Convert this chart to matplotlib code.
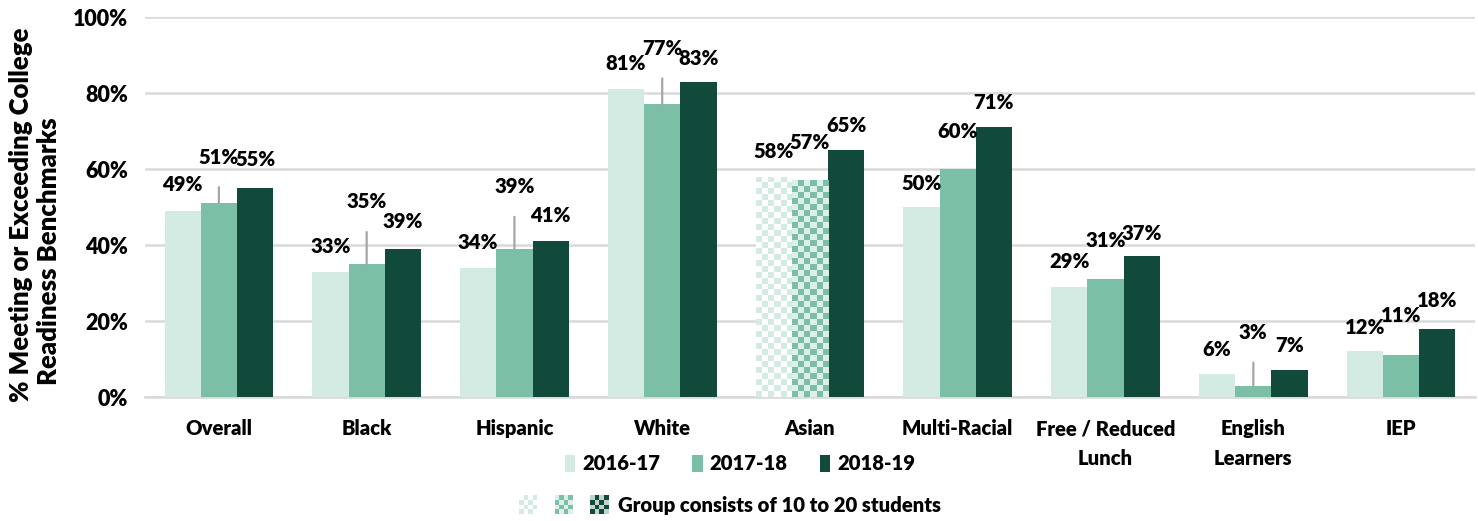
import matplotlib
matplotlib.use('Agg')
import matplotlib.pyplot as plt
import numpy as np
from matplotlib.patches import Rectangle, Patch
from matplotlib.legend_handler import HandlerBase
from matplotlib.colors import to_rgb

# ---------------- data ----------------
categories = ['Overall', 'Black', 'Hispanic', 'White', 'Asian', 'Multi-Racial',
              'Free / Reduced\nLunch', 'English\nLearners', 'IEP']
series = ['2016-17', '2017-18', '2018-19']
v2016 = [49, 33, 34, 81, 58, 50, 29, 6, 12]
v2017 = [51, 35, 39, 77, 57, 60, 31, 3, 11]
v2018 = [55, 39, 41, 83, 65, 71, 37, 7, 18]
# groups of 10 to 20 students, per series
small_2016 = ['Asian']
small_2017 = ['Asian']
small_2018 = []
yticks = [0, 20, 40, 60, 80, 100]
ytick_labels = ['0%', '20%', '40%', '60%', '80%', '100%']
small_note = 'Group consists of 10 to 20 students'
ylabel_lines = ['% Meeting or Exceeding College', 'Readiness Benchmarks']

# ---------------- style / layout ----------------
colors = ['#d4ebe3', '#7bbfa7', '#114a3a']
grid_color = '#d9d9d9'
leader_color = '#a6a6a6'
FONT = 'Lato'
FS = 14.6
WEIGHT = 'heavy'
# label offsets (pixels above bar top) per series, and leader-line flags
label_off = [
    [26, 25, 25, 26, 25, 24, 25, 25, 24],
    [46, 62, 62, 56, 38, 37, 39, 53, 40],
    [28, 27, 26, 23, 24, 25, 23, 25, 28],
]
leader = [
    [False] * 9,
    [True, True, True, True, False, False, False, True, False],
    [False] * 9,
]

plt.rcParams['font.family'] = [FONT, 'DejaVu Sans']
plt.rcParams['font.weight'] = WEIGHT

W, H = 1478, 521
fig = plt.figure(figsize=(W / 100, H / 100), dpi=100)
ax = fig.add_axes([145 / W, 1 - 397 / H, 1330 / W, 380 / H])

x = np.arange(len(categories))
bw = 0.245
values = [v2016, v2017, v2018]
smalls = [small_2016, small_2017, small_2018]

ax.set_xlim(-0.5, len(categories) - 0.5)
ax.set_ylim(0, 100)


def lighten(c, f):
    r = np.array(to_rgb(c))
    return tuple(r + (1 - r) * f)


bar_containers = []
for k, vals in enumerate(values):
    bars = ax.bar(x + (k - 1) * bw, vals, width=bw, color=colors[k], zorder=3,
                  linewidth=0)
    bar_containers.append(bars)

# checkerboard fill for small groups
cell = 6.0
for k, bars in enumerate(bar_containers):
    for i, patch in enumerate(bars):
        if categories[i] not in smalls[k]:
            continue
        x0, y0 = patch.get_x(), patch.get_y()
        x1, y1 = x0 + patch.get_width(), y0 + patch.get_height()
        p0 = ax.transData.transform((x0, y0))
        p1 = ax.transData.transform((x1, y1))
        nx = max(1, int(round((p1[0] - p0[0]) / cell)))
        ny = max(1, int(round((p1[1] - p0[1]) / cell)))
        c1 = np.array(to_rgb(colors[k]))
        c2 = np.array(lighten(colors[k], 0.75))
        if k == 0:
            c2 = np.array([1.0, 1.0, 1.0])
        img = np.zeros((ny, nx, 3))
        for r in range(ny):
            for c in range(nx):
                img[r, c] = c1 if (r + c) % 2 == 0 else c2
        patch.set_facecolor('none')
        im = ax.imshow(img, extent=[x0, x1, y0, y1], origin='lower',
                       interpolation='nearest', aspect='auto', zorder=3)
        im.set_clip_path(patch)

ax.set_xlim(-0.5, len(categories) - 0.5)
ax.set_ylim(0, 100)

# data labels
for k, bars in enumerate(bar_containers):
    for i, patch in enumerate(bars):
        v = values[k][i]
        cx = patch.get_x() + patch.get_width() / 2
        off = label_off[k][i]
        ax.annotate(f'{v}%', xy=(cx, v), xytext=(0, off), textcoords='offset pixels',
                    ha='center', va='center', fontsize=FS, fontweight=WEIGHT,
                    color='black', zorder=5, annotation_clip=False)
        if leader[k][i]:
            ax.annotate('', xy=(cx, v), xytext=(0, off - 30), textcoords='offset pixels',
                        arrowprops=dict(arrowstyle='-', color=leader_color, lw=1.6,
                                        shrinkA=0, shrinkB=0), zorder=4,
                        annotation_clip=False)

# axes styling
ax.set_yticks(yticks)
ax.set_yticklabels(ytick_labels, fontsize=15.5, fontweight=WEIGHT)
ax.set_xticks(x)
ax.set_xticklabels(categories, fontsize=FS, fontweight=WEIGHT, linespacing=1.65)
ax.tick_params(axis='y', length=0, pad=12)
ax.tick_params(axis='x', length=0, pad=16)
ax.yaxis.grid(True, color=grid_color, lw=1.8, zorder=0)
ax.set_axisbelow(True)
for s in ['top', 'right', 'left']:
    ax.spines[s].set_visible(False)
ax.spines['bottom'].set_color(grid_color)
ax.spines['bottom'].set_linewidth(1.8)

# y label (two lines)
fig.text(21 / W, 1 - 215 / H, ylabel_lines[0], rotation=90, ha='center', va='center',
         fontsize=18.5, fontweight=WEIGHT)
fig.text(49 / W, 1 - 251 / H, ylabel_lines[1], rotation=90, ha='center', va='center',
         fontsize=18.5, fontweight=WEIGHT)

# legend row 1
handles = [Patch(facecolor=c, edgecolor='none') for c in colors]
leg1 = fig.legend(handles, series, ncol=3, loc='center',
                  bbox_to_anchor=(740 / W, 1 - 464 / H), frameon=False,
                  prop=dict(family=FONT, weight=WEIGHT, size=FS),
                  handlelength=0.5, handleheight=0.85, handletextpad=0.35,
                  columnspacing=1.6)


# legend row 2 with checkered keys
class CheckerKey:
    pass


class CheckerHandler(HandlerBase):
    def __init__(self, cols):
        super().__init__()
        self.cols = cols

    def create_artists(self, legend, orig_handle, xdescent, ydescent, width, height,
                       fontsize, trans):
        s = height
        n = len(self.cols)
        gap = (width - n * s) / (n - 1)
        arts = []
        m = 4
        cs = s / m
        for j, col in enumerate(self.cols):
            bx = -xdescent + j * (s + gap)
            by = -ydescent
            light = lighten(col, 0.75) if j > 0 else (1, 1, 1)
            for r in range(m):
                for c in range(m):
                    fc = col if (r + c) % 2 == 0 else light
                    arts.append(Rectangle((bx + c * cs, by + r * cs), cs, cs,
                                          facecolor=fc, edgecolor='none',
                                          transform=trans))
        return arts


leg2 = fig.legend([CheckerKey()], [small_note], loc='center',
                  bbox_to_anchor=(730 / W, 1 - 505 / H), frameon=False,
                  prop=dict(family=FONT, weight=WEIGHT, size=FS),
                  handler_map={CheckerKey: CheckerHandler(colors)},
                  handlelength=4.4, handleheight=1.0, handletextpad=0.45)

fig.savefig('out.png', dpi=100)
